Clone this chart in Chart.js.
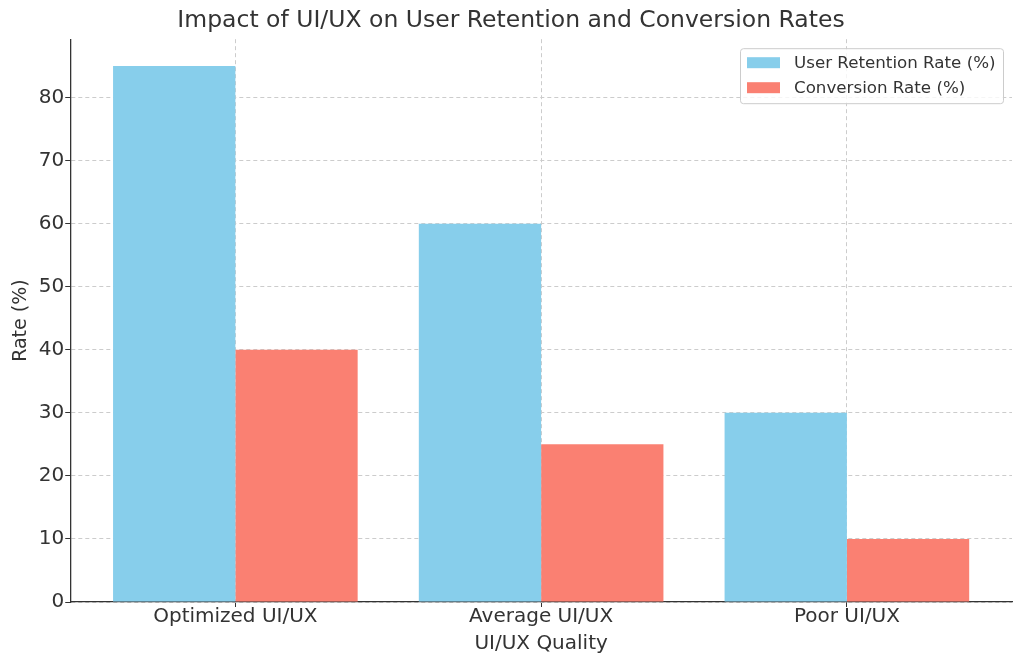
<!DOCTYPE html>
<html>
<head>
<meta charset="utf-8">
<script src="https://cdn.jsdelivr.net/npm/chart.js@4"></script>
<style>
  html, body { margin: 0; padding: 0; background: #fff; }
  #wrap { width: 1024px; height: 666px; }
</style>
</head>
<body>
<div id="wrap"><canvas id="chart"></canvas></div>
<script>
// 数据
var categories = ['Optimized UI/UX', 'Average UI/UX', 'Poor UI/UX'];
var retentionRate = [85, 60, 30];
var conversionRate = [40, 25, 10];
var yTicks = [0, 10, 20, 30, 40, 50, 60, 70, 80];

var FONT = "'DejaVu Sans', sans-serif";
var TEXT = '#333333';

// 图例画在绘图区右上角（与原图一致）
var innerLegend = {
	id: 'innerLegend',
	afterDraw: function(chart) {
		var ctx = chart.ctx;
		var area = chart.chartArea;
		var w = 263, h = 55;
		var x = area.right - w - 9, y = area.top + 9;
		ctx.save();
		ctx.fillStyle = 'rgba(255,255,255,0.8)';
		ctx.strokeStyle = '#cccccc';
		ctx.lineWidth = 1;
		ctx.beginPath();
		ctx.roundRect(x + 0.5, y + 0.5, w, h, 3);
		ctx.fill();
		ctx.stroke();
		ctx.font = '16.7px ' + FONT;
		ctx.textBaseline = 'middle';
		chart.data.datasets.forEach(function(ds, i) {
			var ry = y + 14 + i * 25;
			ctx.fillStyle = ds.backgroundColor;
			ctx.fillRect(x + 7, ry - 5, 33, 11);
			ctx.fillStyle = TEXT;
			ctx.fillText(ds.label, x + 54, ry + 1);
		});
		ctx.restore();
	}
};

var gridOpts = {
	color: '#cccccc',
	offset: false,
	tickColor: TEXT,
	tickBorderDash: [],
	tickLength: 5
};
var borderOpts = { display: true, color: TEXT, width: 1.3, dash: [4, 3] };

const el = document.getElementById('chart');
new Chart(el, {
	type: 'bar',
	data: {
		datasets: [{
			label: 'User Retention Rate (%)',
			data: retentionRate.map(function(v, i) { return { x: i, y: v }; }),
			backgroundColor: '#87CEEB'
		}, {
			label: 'Conversion Rate (%)',
			data: conversionRate.map(function(v, i) { return { x: i, y: v }; }),
			backgroundColor: '#FA8072'
		}]
	},
	plugins: [innerLegend],
	options: {
		responsive: true,
		maintainAspectRatio: false,
		animation: false,
		layout: { padding: { left: 10, right: 12, top: 0, bottom: 10 } },
		datasets: { bar: { categoryPercentage: 0.8, barPercentage: 1.0 } },
		plugins: {
			legend: { display: false },
			tooltip: { enabled: false },
			title: {
				display: true,
				text: 'Impact of UI/UX on User Retention and Conversion Rates',
				color: TEXT,
				font: { family: FONT, size: 23.5, weight: 'normal' },
				padding: { top: 7, bottom: 4 }
			}
		},
		scales: {
			x: {
				type: 'linear',
				offset: false,
				min: -0.54,
				max: 2.54,
				afterBuildTicks: function(axis) {
					axis.ticks = categories.map(function(c, i) { return { value: i }; });
				},
				ticks: {
					color: TEXT,
					font: { family: FONT, size: 20, lineHeight: 1.0 },
					padding: 0,
					maxRotation: 0,
					callback: function(v) { return categories[v]; }
				},
				grid: gridOpts,
				border: borderOpts,
				title: {
					display: true,
					text: 'UI/UX Quality',
					color: TEXT,
					font: { family: FONT, size: 20 },
					padding: { top: 5, bottom: 0 }
				}
			},
			y: {
				min: 0,
				max: 89.25,
				afterBuildTicks: function(axis) {
					axis.ticks = yTicks.map(function(v) { return { value: v }; });
				},
				ticks: {
					color: TEXT,
					font: { family: FONT, size: 20 },
					padding: 1
				},
				grid: gridOpts,
				border: borderOpts,
				title: {
					display: true,
					text: 'Rate (%)',
					color: TEXT,
					font: { family: FONT, size: 19 },
					padding: { top: 0, bottom: 5 }
				}
			}
		}
	}
});
</script>
</body>
</html>
